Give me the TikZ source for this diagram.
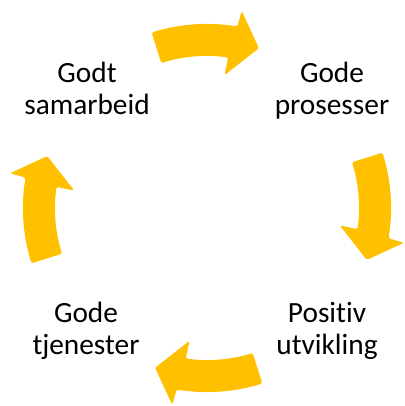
\documentclass[tikz,border=0pt]{standalone}
\usepackage{fontspec}
\setmainfont{Carlito}[Ligatures=NoCommon]
\usetikzlibrary{positioning}
\definecolor{cyclegold}{HTML}{FFC000}

\begin{document}
\begin{tikzpicture}[x=0.75pt, y=0.75pt,
	cycle text/.style={align=center, anchor=base, font=\fontsize{22}{24}\selectfont},
	cycle arrow/.style={fill=cyclegold, draw=none, rounded corners=1.2}]

	\useasboundingbox (0,0) rectangle (404,406);
	\coordinate (centre) at (207,198);

	\node[cycle text] (samarbeid) at (87,291) {Godt\\samarbeid};
	\node[cycle text] (prosesser) at (332,291) {Gode\\prosesser};
	\node[cycle text] (utvikling) at (327,51) {Positiv\\utvikling};
	\node[cycle text] (tjenester) at (86,51) {Gode\\tjenester};

	% curved arrows, clockwise
	\begin{scope}[shift={(centre)}]
	\foreach \a in {90,0,-90,180} {
		\fill[cycle arrow] (\a+17.5:184) arc[start angle=\a+17.5, end angle=\a-9.5, radius=184]
			-- (\a-10:200) -- (\a-18:168) -- (\a-7.5:134) -- (\a-8:152)
			arc[start angle=\a-8, end angle=\a+17.5, radius=152] -- cycle;
	}
	\end{scope}
\end{tikzpicture}
\end{document}
